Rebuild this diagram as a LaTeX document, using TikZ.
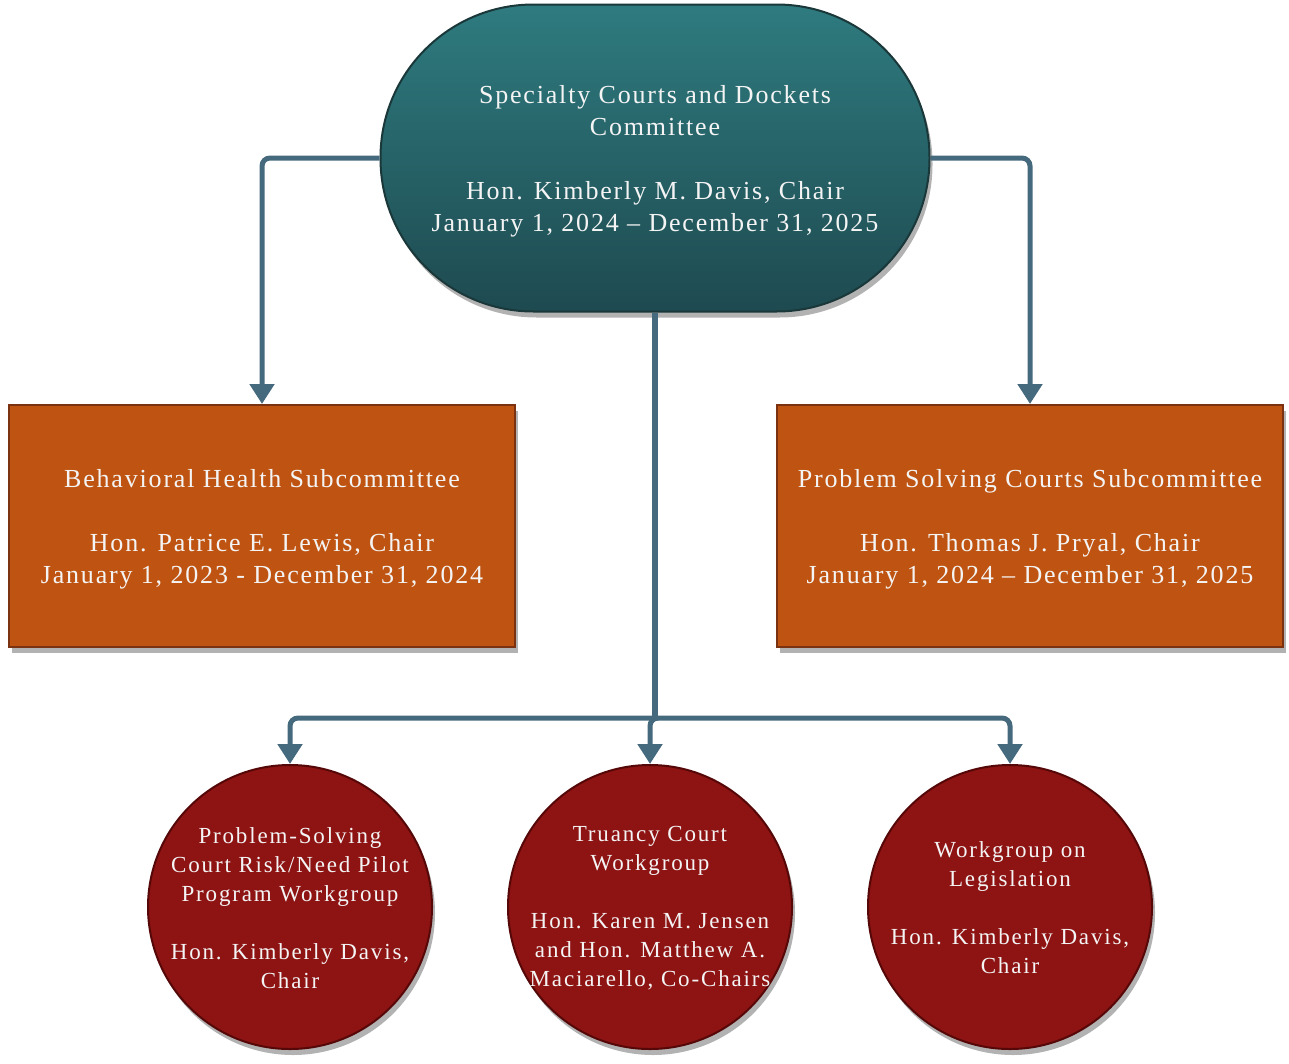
\documentclass[tikz,border=0pt]{standalone}
\usepackage{fontspec}
\setmainfont{Liberation Serif}
\newfontfamily\bigf{Liberation Serif}[LetterSpace=7]
\newfontfamily\smallf{Liberation Serif}[LetterSpace=8]
\usetikzlibrary{arrows.meta,shadows}
\definecolor{tealtop}{HTML}{2E7B7F}
\definecolor{tealbot}{HTML}{1E4A50}
\definecolor{tealedge}{HTML}{1A3739}
\definecolor{orangefill}{HTML}{BF5412}
\definecolor{orangeedge}{HTML}{7A3210}
\definecolor{redfill}{HTML}{8E1313}
\definecolor{rededge}{HTML}{560808}
\definecolor{connc}{HTML}{45697D}
\definecolor{txt}{HTML}{F4F4F4}
\tikzset{
  shad/.style={drop shadow={shadow xshift=3pt,shadow yshift=-6pt,opacity=0.3,fill=black}},
  bigtext/.style={align=center,text=txt,font=\bigf\fontsize{26pt}{32pt}\selectfont,yshift=-3pt},
  smalltext/.style={align=center,text=txt,font=\smallf\fontsize{23pt}{29pt}\selectfont,yshift=-1pt},
  topbox/.style={shad,draw=tealedge,line width=2pt,top color=tealtop,bottom color=tealbot,
    minimum width=549pt,minimum height=307pt,rounded corners=153pt},
  subbox/.style={shad,draw=orangeedge,line width=2pt,fill=orangefill,
    minimum width=506pt,minimum height=242pt},
  wgcircle/.style={shad,circle,draw=rededge,line width=2pt,fill=redfill,
    minimum size=284pt,inner sep=0pt},
  conn/.style={draw=connc,line width=5pt,rounded corners=8pt,
    -{Triangle[width=24pt,length=20pt]}},
  trunk/.style={draw=connc,line width=6pt}
}
\begin{document}
\begin{tikzpicture}[x=1pt,y=-1pt]
\useasboundingbox (0,0) rectangle (1289,1063);
\node[topbox,label={[bigtext]center:Specialty Courts and Dockets\\Committee\\[32pt]Hon. Kimberly M. Davis, Chair\\January 1, 2024 – December 31, 2025}] (top) at (655,158) {};
\node[subbox,label={[bigtext]center:Behavioral Health Subcommittee\\[32pt]Hon. Patrice E. Lewis, Chair\\January 1, 2023 - December 31, 2024}] (bh) at (262,526) {};
\node[subbox,label={[bigtext]center:Problem Solving Courts Subcommittee\\[32pt]Hon. Thomas J. Pryal, Chair\\January 1, 2024 – December 31, 2025}] (psc) at (1030,526) {};
\node[wgcircle,label={[smalltext]center:Problem-Solving\\Court Risk/Need Pilot\\Program Workgroup\\[29pt]Hon. Kimberly Davis,\\Chair}] (c1) at (290,907) {};
\node[wgcircle,label={[smalltext]center:Truancy Court\\Workgroup\\[29pt]Hon. Karen M. Jensen\\and Hon. Matthew A.\\Maciarello, Co-Chairs}] (c2) at (650,907) {};
\node[wgcircle,label={[smalltext]center:Workgroup on\\Legislation\\[29pt]Hon. Kimberly Davis,\\Chair}] (c3) at (1010,907) {};
\coordinate (j) at (655,718);
\draw[conn] (top.west) -| (bh.north);
\draw[conn] (top.east) -| (psc.north);
\draw[trunk] (top.south) -- (j);
\draw[conn] (j) -| (c1.north);
\draw[conn] (j) -| (c3.north);
\draw[conn] (j) -| (c2.north);
\end{tikzpicture}
\end{document}
